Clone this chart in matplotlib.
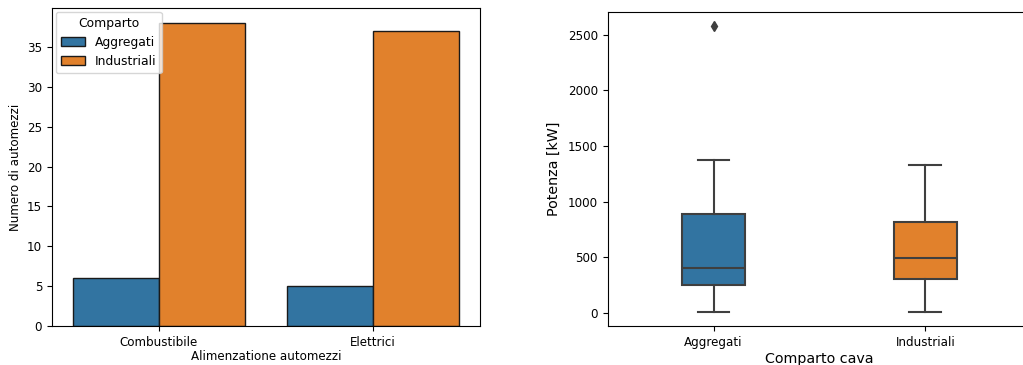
import matplotlib
matplotlib.use("Agg")
import matplotlib.pyplot as plt
import numpy as np

# Data
categories = ["Combustibile", "Elettrici"]
series_names = ["Aggregati", "Industriali"]
aggregati_counts = [6, 5]
industriali_counts = [38, 37]

box_labels = ["Aggregati", "Industriali"]
box_whislo = [10, 10]
box_q1 = [250, 300]
box_med = [400, 495]
box_q3 = [885, 820]
box_whishi = [1375, 1330]
box_fliers = [[2575], []]

colors = ["#3274a1", "#e1812c"]
line_gray = "#3f3f3f"
fs = 8.6

fig = plt.figure(figsize=(10.23, 3.65), dpi=100)
ax1 = fig.add_axes([0.0508, 0.1068, 0.4184, 0.8712])
ax2 = fig.add_axes([0.594, 0.1068, 0.414, 0.8603])

# Left: grouped bars
x = np.arange(len(categories))
w = 0.4
ax1.bar(x - w / 2, aggregati_counts, width=w, color=colors[0], edgecolor="#1a1a1a",
        linewidth=1.0, label=series_names[0])
ax1.bar(x + w / 2, industriali_counts, width=w, color=colors[1], edgecolor="#1a1a1a",
        linewidth=1.0, label=series_names[1])
ax1.set_xticks(x)
ax1.set_xticklabels(categories, fontsize=fs)
ax1.tick_params(axis="y", labelsize=fs)
ax1.set_xlim(-0.5, 1.5)
ax1.set_ylim(0, 38 * 1.05)
ax1.set_xlabel("Alimenzatione automezzi", fontsize=fs, labelpad=1)
ax1.set_ylabel("Numero di automezzi", fontsize=fs)
leg = ax1.legend(title="Comparto", loc="upper left", fontsize=fs + 0.3, title_fontsize=fs + 0.3,
                 borderaxespad=0.3)

# Right: boxplot
stats = []
for i, lab in enumerate(box_labels):
    stats.append(dict(label=lab, whislo=box_whislo[i], q1=box_q1[i], med=box_med[i],
                      q3=box_q3[i], whishi=box_whishi[i], fliers=box_fliers[i]))
bp = ax2.bxp(stats, positions=[0, 1], widths=0.3, patch_artist=True,
             boxprops=dict(edgecolor=line_gray, linewidth=1.5),
             medianprops=dict(color=line_gray, linewidth=1.5),
             whiskerprops=dict(color=line_gray, linewidth=1.5),
             capprops=dict(color=line_gray, linewidth=1.5),
             flierprops=dict(marker="d", markerfacecolor=line_gray, markeredgecolor=line_gray,
                             markersize=5))
for patch, c in zip(bp["boxes"], colors):
    patch.set_facecolor(c)
ax2.set_xlim(-0.5, 1.5)
ax2.set_ylim(-118, 2703)
ax2.set_yticks([0, 500, 1000, 1500, 2000, 2500])
ax2.tick_params(labelsize=fs)
ax2.set_xlabel("Comparto cava", fontsize=10.3, labelpad=2)
ax2.set_ylabel("Potenza [kW]", fontsize=10.3, labelpad=5)

fig.savefig("out.png", dpi=100)
